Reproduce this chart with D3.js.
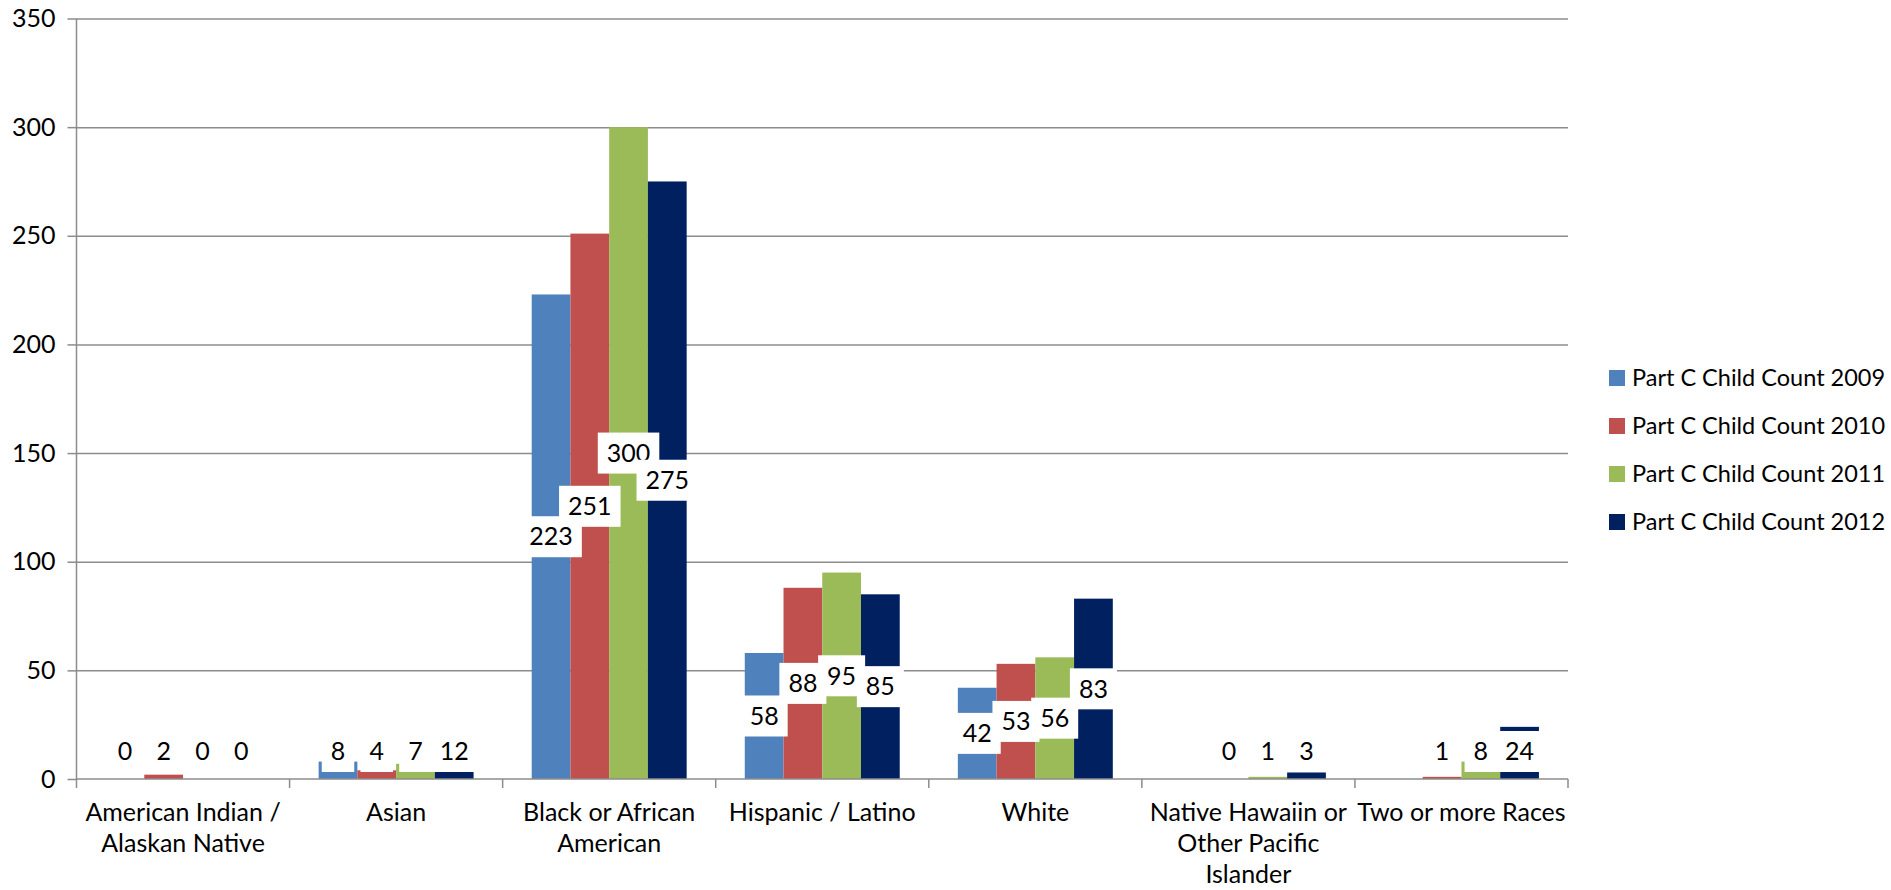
<!DOCTYPE html>
<html>
<head>
<meta charset="utf-8">
<script src="https://cdn.jsdelivr.net/npm/d3@7"></script>
<style>
  html, body { margin: 0; padding: 0; background: #fff; }
  svg { display: block; font-family: Lato, 'Open Sans', sans-serif; }
</style>
</head>
<body>
<div id="chart"></div>
<script>
const categories = [
  'American Indian /\nAlaskan Native',
  'Asian',
  'Black or African\nAmerican',
  'Hispanic / Latino',
  'White',
  'Native Hawaiin or\nOther Pacific\nIslander',
  'Two or more Races'
];
const seriesNames = [
  'Part C Child Count 2009',
  'Part C Child Count 2010',
  'Part C Child Count 2011',
  'Part C Child Count 2012'
];
const counts2009 = [0, 8, 223, 58, 42, null, null];
const counts2010 = [2, 4, 251, 88, 53, 0, 1];
const counts2011 = [0, 7, 300, 95, 56, 1, 8];
const counts2012 = [0, 12, 275, 85, 83, 3, 24];
const yTicks = [0, 50, 100, 150, 200, 250, 300, 350];
const seriesColors = ['#4F81BD', '#C0504D', '#9BBB59', '#002060'];

const allSeries = [counts2009, counts2010, counts2011, counts2012];

const W = 1891, H = 890;
const margin = { top: 18.5, right: 323, bottom: 111, left: 76.5 };
const iw = W - margin.left - margin.right;
const ih = H - margin.top - margin.bottom;

const svg = d3.select('#chart').append('svg')
  .attr('width', W).attr('height', H);

const g = svg.append('g').attr('transform', `translate(${margin.left},${margin.top})`);

const x0 = d3.scaleBand().domain(categories).range([0, iw]).paddingInner(0).paddingOuter(0);
const x1 = d3.scaleBand().domain(seriesNames).range([0, x0.bandwidth()])
  .paddingInner(0).paddingOuter(0.75);
const y = d3.scaleLinear().domain([0, 350]).range([ih, 0]);

const gridColor = '#8c8c8c';

// gridlines
g.append('g')
  .call(d3.axisLeft(y).tickValues(yTicks.slice(1)).tickSize(-iw).tickFormat(''))
  .call(a => a.select('.domain').remove())
  .call(a => a.selectAll('.tick line').attr('stroke', gridColor).attr('stroke-width', 1.5));

// bars
const rows = categories.map((c, i) => ({ cat: c, vals: allSeries.map(s => s[i]) }));

g.selectAll('.cat')
  .data(rows)
  .join('g')
  .attr('class', 'cat')
  .attr('transform', d => `translate(${x0(d.cat)},0)`)
  .selectAll('rect')
  .data(d => d.vals.map((v, k) => ({ v, k })).filter(e => e.v != null))
  .join('rect')
  .attr('x', e => x1(seriesNames[e.k]))
  .attr('width', x1.bandwidth())
  .attr('y', e => y(e.v))
  .attr('height', e => y(0) - y(e.v))
  .attr('fill', e => seriesColors[e.k]);

// y axis
g.append('g')
  .call(d3.axisLeft(y).tickValues(yTicks).tickSize(9).tickPadding(12))
  .call(a => a.select('.domain').attr('stroke', gridColor).attr('stroke-width', 1.5)
    .attr('d', `M0,0V${ih}`))
  .call(a => a.selectAll('.tick line').attr('stroke', gridColor).attr('stroke-width', 1.5))
  .call(a => a.selectAll('.tick text').attr('font-size', 25).attr('fill', '#000')
    .attr('font-family', 'Lato, sans-serif'));

// x axis line and category boundary ticks
const xa = g.append('g').attr('transform', `translate(0,${ih})`);
xa.append('line').attr('x1', 0).attr('x2', iw)
  .attr('stroke', gridColor).attr('stroke-width', 1.5);
const bounds = categories.map(c => x0(c)).concat([x0(categories[categories.length - 1]) + x0.bandwidth()]);
xa.selectAll('.bt').data(bounds).join('line')
  .attr('x1', d => d).attr('x2', d => d).attr('y1', 0).attr('y2', 9)
  .attr('stroke', gridColor).attr('stroke-width', 1.5);

const catText = xa.selectAll('.cl').data(categories).join('text')
  .attr('text-anchor', 'middle')
  .attr('font-size', 25)
  .attr('fill', '#000')
  .attr('transform', d => `translate(${x0(d) + x0.bandwidth() / 2},0)`);
catText.selectAll('tspan').data(d => d.split('\n')).join('tspan')
  .attr('x', 0)
  .attr('y', (d, i) => 42 + i * 31)
  .text(d => d);

// data labels with white boxes
const labelLayer = g.append('g');
seriesNames.forEach((name, k) => {
  rows.forEach(r => {
    const v = r.vals[k];
    if (v == null) return;
    const cx = x0(r.cat) + x1(name) + x1.bandwidth() / 2;
    const cy = Math.min(y(v / 2), y(0) - 27.5);
    const lg = labelLayer.append('g').attr('transform', `translate(${cx},${cy})`);
    const box = lg.append('rect').attr('fill', '#fff');
    const t = lg.append('text')
      .attr('text-anchor', 'middle')
      .attr('dy', '0.35em')
      .attr('font-size', 25)
      .attr('fill', '#000')
      .text(v);
    const tw = t.node().getComputedTextLength();
    box.attr('x', -tw / 2 - 9).attr('width', tw + 18)
      .attr('y', -20.5).attr('height', 41);
  });
});

// legend
const legend = svg.append('g').attr('transform', 'translate(1609,378)');
seriesNames.forEach((name, k) => {
  const item = legend.append('g').attr('transform', `translate(0,${k * 48})`);
  item.append('rect').attr('x', 0).attr('y', -8).attr('width', 16).attr('height', 16)
    .attr('fill', seriesColors[k]);
  item.append('text').attr('x', 23).attr('dy', '0.35em')
    .attr('font-size', 23.5).attr('fill', '#000').text(name);
});
</script>
</body>
</html>
